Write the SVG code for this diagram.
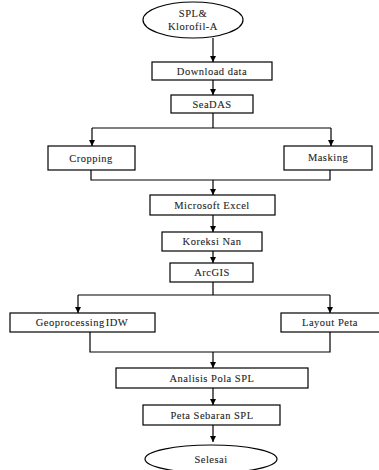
<svg xmlns="http://www.w3.org/2000/svg" width="379" height="470" viewBox="0 0 379 470">
<defs>
<marker id="ah" viewBox="0 0 8 8" refX="8" refY="4" markerWidth="6" markerHeight="6" orient="auto" markerUnits="userSpaceOnUse">
<path d="M0,0 L8,4 L0,8 z" fill="#000"/>
</marker>
<style>
.b{fill:#fff;stroke:#000;stroke-width:1.2}
.t{font-family:"Liberation Serif","Times New Roman",serif;font-size:10.5px;letter-spacing:0.5px;fill:#222;stroke:#333;stroke-width:0.1;text-anchor:middle}
.c{fill:none;stroke:#000;stroke-width:1.2}
.a{fill:none;stroke:#000;stroke-width:1.2;marker-end:url(#ah)}
</style>
</defs>
<rect width="379" height="470" fill="#fff"/>
<g id="connectors">
<path class="a" d="M213,38 V62"/>
<path class="a" d="M213,80 V95"/>
<path class="c" d="M213,113 V128 M92,128 H331"/>
<path class="a" d="M92,128 V146"/>
<path class="a" d="M331,128 V146"/>
<path class="c" d="M91,170 V180 H330 V170"/>
<path class="a" d="M213,180 V195"/>
<path class="a" d="M213,215 V232"/>
<path class="a" d="M213,251 V263"/>
<path class="c" d="M213,282 V295 M78,295 H330"/>
<path class="a" d="M78,295 V313"/>
<path class="a" d="M330,295 V313"/>
<path class="c" d="M90,332 V352 H330 V332"/>
<path class="a" d="M213,352 V368"/>
<path class="a" d="M213,388 V405"/>
<path class="a" d="M213,425 V442"/>
</g>
<g id="start">
<ellipse class="b" cx="193" cy="20" rx="50" ry="18"/>
<text class="t" x="193" y="17">SPL&amp;</text>
<text class="t" x="193" y="30">Klorofil-A</text>
</g>
<g id="download">
<rect class="b" x="152" y="62" width="120" height="18"/>
<text class="t" x="212" y="75">Download data</text>
</g>
<g id="seadas">
<rect class="b" x="171" y="95" width="82" height="18"/>
<text class="t" x="212" y="108">SeaDAS</text>
</g>
<g id="cropping">
<rect class="b" x="48" y="146" width="87" height="24"/>
<text class="t" x="91" y="162">Cropping</text>
</g>
<g id="masking">
<rect class="b" x="284" y="146" width="88" height="24"/>
<text class="t" x="328" y="161">Masking</text>
</g>
<g id="excel">
<rect class="b" x="150" y="195" width="125" height="20"/>
<text class="t" x="212" y="209">Microsoft Excel</text>
</g>
<g id="koreksi">
<rect class="b" x="162" y="232" width="100" height="19"/>
<text class="t" x="212" y="245">Koreksi Nan</text>
</g>
<g id="arcgis">
<rect class="b" x="170" y="263" width="83" height="19"/>
<text class="t" x="212" y="276">ArcGIS</text>
</g>
<g id="idw">
<rect class="b" x="10" y="313" width="145" height="19"/>
<text class="t" x="82" y="326" style="word-spacing:-2px">Geoprocessing IDW</text>
</g>
<g id="layout">
<rect class="b" x="281" y="313" width="105" height="19"/>
<text class="t" x="330" y="326">Layout Peta</text>
</g>
<g id="analisis">
<rect class="b" x="116" y="368" width="192" height="20"/>
<text class="t" x="212" y="382">Analisis Pola SPL</text>
</g>
<g id="peta">
<rect class="b" x="143" y="405" width="137" height="20"/>
<text class="t" x="212" y="419">Peta Sebaran SPL</text>
</g>
<g id="end">
<ellipse class="b" cx="211" cy="459" rx="66" ry="14"/>
<text class="t" x="211" y="463">Selesai</text>
</g>
</svg>
